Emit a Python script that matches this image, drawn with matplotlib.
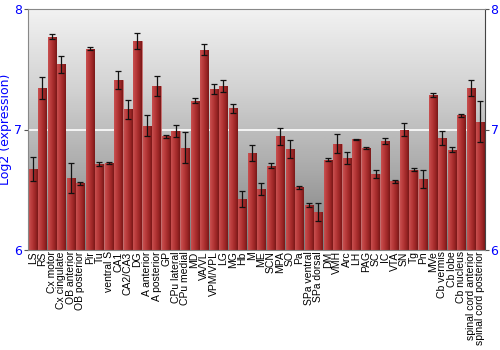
import numpy as np
import matplotlib
matplotlib.use("Agg")
import matplotlib.pyplot as plt
from matplotlib.colors import LinearSegmentedColormap

regions = ["LS", "RS", "Cx motor", "Cx cingulate", "OB anterior", "OB posterior", "Pir", "Tu",
           "ventral S", "CA1", "CA2/CA3", "DG", "A anterior", "A posterior", "GP", "CPu lateral",
           "CPu medial", "MD", "VA/VL", "VPM/VPL", "LG", "MG", "Hb", "M", "ME", "SCN", "MPA", "SO",
           "Pa", "SPa ventral", "SPa dorsal", "DM", "VMH", "Arc", "LH", "PAG", "SC", "IC", "VTA",
           "SN", "Tg", "Pn", "MVe", "Cb vermis", "Cb lobe", "Cb nucleus",
           "spinal cord anterior", "spinal cord posterior"]
values = [6.675, 7.347, 7.77, 7.54, 6.60, 6.553, 7.672, 6.711,
          6.722, 7.414, 7.167, 7.736, 7.033, 7.361, 6.942, 6.986,
          6.85, 7.239, 7.664, 7.336, 7.361, 7.175, 6.425, 6.803, 6.508, 6.70, 6.942, 6.836,
          6.519, 6.375, 6.317, 6.75, 6.883, 6.761, 6.917, 6.844, 6.628, 6.903, 6.569,
          7.0, 6.667, 6.592, 7.289, 6.931, 6.833, 7.117,
          7.347, 7.064]
errors = [0.10, 0.09, 0.02, 0.07, 0.125, 0.015, 0.01, 0.015,
          0.005, 0.075, 0.08, 0.065, 0.085, 0.083, 0.01, 0.05,
          0.128, 0.02, 0.045, 0.04, 0.05, 0.035, 0.065, 0.065, 0.05, 0.02, 0.072, 0.075,
          0.01, 0.015, 0.075, 0.01, 0.078, 0.05, 0.005, 0.01, 0.033, 0.025, 0.015,
          0.057, 0.015, 0.075, 0.015, 0.06, 0.02, 0.015,
          0.067, 0.17]
yticks = [6, 7, 8]

fig = plt.figure(figsize=(5, 3.5), dpi=100)
ax = fig.add_axes([0.056, 0.286, 0.914, 0.688])
n = len(regions)
x = np.arange(n)
ax.set_xlim(-0.5, n - 0.5)
ax.set_ylim(6, 8)

# background gradient: light at top, darker at bottom
bg = LinearSegmentedColormap.from_list("bg", ["#f2f2f2", "#d2d2d2", "#aaaaaa", "#7c7c7c"])
grad = np.linspace(0, 1, 256).reshape(-1, 1)
ax.imshow(grad, extent=[-0.5, n - 0.5, 6, 8], aspect="auto", cmap=bg, vmin=0, vmax=1,
          origin="upper", zorder=0)
ax.axhline(7, color="white", lw=1.2, zorder=1)

bars = ax.bar(x, np.array(values) - 6, bottom=6, width=0.86, color="#b03434",
              edgecolor="#c87070", linewidth=0.6, zorder=2)
bar_cmap = LinearSegmentedColormap.from_list("bar", ["#c85050", "#b83a3a", "#a02828", "#7a1818"])
hgrad = np.linspace(0, 1, 64).reshape(1, -1)
for b in bars:
    bx, by = b.get_x(), b.get_y()
    w, h = b.get_width(), b.get_height()
    im = ax.imshow(hgrad, extent=[bx, bx + w, by, by + h], aspect="auto", cmap=bar_cmap,
                   zorder=2.5)
    im.set_clip_path(b)

ax.errorbar(x, values, yerr=errors, fmt="none", ecolor="#111111", elinewidth=0.9,
            capsize=2, capthick=0.9, zorder=3)

ax.set_xticks(x)
ax.set_xticklabels(regions, rotation=90, fontsize=7.5, family="Liberation Sans")
ax.tick_params(axis="x", length=0, pad=1)
ax.set_yticks(yticks)
ax.set_yticklabels([str(t) for t in yticks], color="#0000ff", fontsize=9)
ax.tick_params(axis="y", which="both", left=True, right=True, labelleft=True, labelright=True,
               length=3, color="#555555", pad=1)
ax.set_ylabel("Log2 (expression)", color="#0000ff", fontsize=9, labelpad=2)
for s in ["left", "top", "bottom"]:
    ax.spines[s].set_color("#888888")
ax.spines["right"].set_color("#444444")
ax.set_aspect("auto")

fig.savefig("out.png", dpi=100)
